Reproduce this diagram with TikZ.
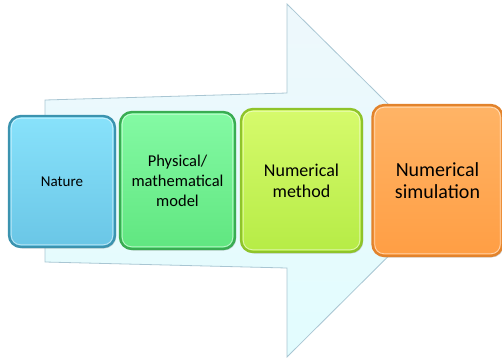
\documentclass[tikz,border=0pt]{standalone}
\usepackage{fontspec}
\setmainfont{Carlito}
\usetikzlibrary{positioning,shadows}

\definecolor{arrowfill}{HTML}{EEF8FC}
\definecolor{arrowline}{HTML}{A9C6D3}
\definecolor{natA}{HTML}{88E2FB}
\definecolor{natB}{HTML}{6AC6E6}
\definecolor{natD}{HTML}{3B93AF}
\definecolor{modA}{HTML}{84FAA4}
\definecolor{modB}{HTML}{60E680}
\definecolor{modD}{HTML}{39AC52}
\definecolor{metA}{HTML}{D6FA6C}
\definecolor{metB}{HTML}{B6EC46}
\definecolor{metD}{HTML}{8FC42A}
\definecolor{simA}{HTML}{FFB466}
\definecolor{simB}{HTML}{FF9E44}
\definecolor{simD}{HTML}{E2832C}

\begin{document}
\begin{tikzpicture}[x=1pt,y=-1pt,
  stage/.style={rounded corners=12pt,line width=2.4pt,align=center,
    inner sep=2pt,text=black,
    drop shadow={shadow xshift=1.2pt,shadow yshift=-1.5pt,opacity=0.35}},
  glint/.style={white,opacity=0.55,line width=0.8pt,rounded corners=9pt}]
\useasboundingbox (0,0) rectangle (502,359);
% big arrow behind the stages
\draw[arrowline,top color=arrowfill,bottom color=arrowfill!80!cyan!45,line width=0.8pt]
  (45,100)--(287,93)--(287,4)--(465,180)--(287,357)--(287,268)--(45,262)--cycle;
% stages
\node[stage,draw=natD,top color=natA,bottom color=natB,
  minimum width=106pt,minimum height=131pt,font=\fontsize{15}{19}\selectfont]
  (nature) at (62,181.5) {Nature};
\node[stage,draw=modD,top color=modA,bottom color=modB,
  minimum width=115pt,minimum height=137pt,font=\fontsize{16.5}{20}\selectfont]
  (model) at (177.5,180.5) {Physical/\\mathematical\\model};
\node[stage,draw=metD,top color=metA,bottom color=metB,
  minimum width=121pt,minimum height=143pt,font=\fontsize{18}{20.7}\selectfont]
  (method) at (301.5,180.5) {Numerical\\method};
\node[stage,draw=simD,top color=simA,bottom color=simB,
  minimum width=130pt,minimum height=151pt,font=\fontsize{20}{21.7}\selectfont]
  (simul) at (437.5,180.5) {Numerical\\simulation};
% inner highlights
\foreach \n in {nature,model,method,simul}
  \draw[glint] ([shift={(3.5,3.5)}]\n.north west) rectangle ([shift={(-3.5,-3.5)}]\n.south east);
\end{tikzpicture}
\end{document}
